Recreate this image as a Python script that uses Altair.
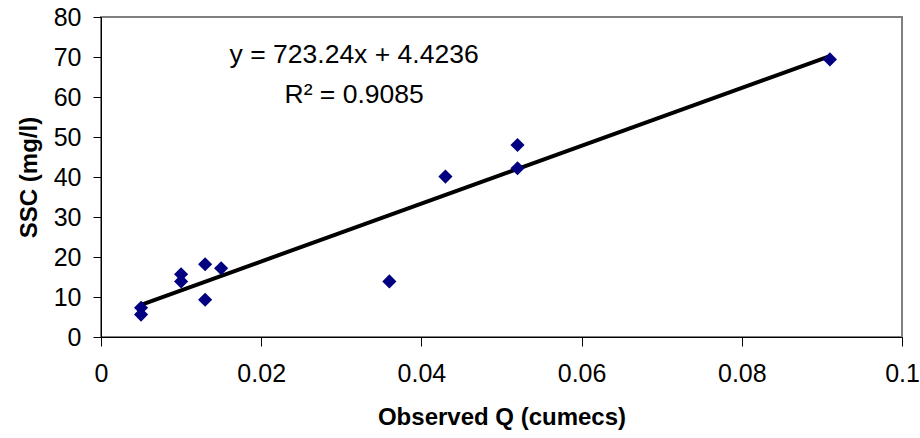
import altair as alt
import pandas as pd

q_obs = [0.005, 0.005, 0.010, 0.010, 0.013, 0.013, 0.015, 0.036, 0.043, 0.052, 0.052, 0.091]
ssc = [7.3, 5.6, 15.7, 13.9, 18.2, 9.3, 17.2, 13.9, 40.1, 48.0, 42.2, 69.4]

slope = 723.24
intercept = 4.4236
eq_text = ["y = 723.24x + 4.4236", "R² = 0.9085"]
eq_x = [0.0316, 0.0316]
eq_y = [68.4, 58.6]

x_ticks = [0, 0.02, 0.04, 0.06, 0.08, 0.1]
y_ticks = [0, 10, 20, 30, 40, 50, 60, 70, 80]

df = pd.DataFrame({"q": q_obs, "ssc": ssc})
ann = pd.DataFrame({"t": eq_text, "q": eq_x, "ssc": eq_y})

FONT = "Liberation Sans"
FS = 25

xscale = alt.Scale(domain=[0, 0.1], nice=False, zero=True)
yscale = alt.Scale(domain=[0, 80], nice=False)

xaxis = alt.Axis(
    title="Observed Q (cumecs)", values=x_ticks,
    format="~g", grid=False, tickSize=9, labelPadding=15, labelOverlap=False,
    labelFlush=False, titlePadding=19, labelFontSize=FS, titleFontSize=24)
yaxis = alt.Axis(
    title="SSC (mg/l)", values=y_ticks, grid=False,
    tickSize=8, labelPadding=12, labelOverlap=False, labelFlush=False,
    titlePadding=12, labelFontSize=FS, titleFontSize=24)

xenc = alt.X("q:Q", scale=xscale, axis=xaxis)
yenc = alt.Y("ssc:Q", scale=yscale, axis=yaxis)

base = alt.Chart(df)

fit = base.transform_aggregate(
    qmin="min(q)", qmax="max(q)"
).transform_fold(["qmin", "qmax"], as_=["k", "q"]).transform_calculate(
    ssc=f"{slope} * datum.q + {intercept}"
).mark_line(color="black", strokeWidth=4).encode(x=xenc, y=yenc)

pts = base.mark_point(shape="diamond", filled=True, size=200, color="#000080", opacity=1).encode(x=xenc, y=yenc)

txt = alt.Chart(ann).mark_text(font=FONT, fontSize=26.5, align="center", baseline="alphabetic", color="black").encode(
    x=xenc, y=yenc, text="t:N")

chart = alt.layer(fit, pts, txt).properties(
    width=801, height=320,
    padding={"left": 101, "top": 17, "right": 18, "bottom": 101},
    autosize=alt.AutoSizeParams(type="none"),
).configure_view(stroke="#808080", strokeWidth=2).configure_axis(
    domainColor="black", tickColor="black", labelColor="black", titleColor="black",
    labelFont=FONT, titleFont=FONT,
    titleFontWeight="bold", labelFontWeight="normal", domainWidth=1
)

chart.save("out.html", embed_options={"renderer": "svg", "actions": False})
